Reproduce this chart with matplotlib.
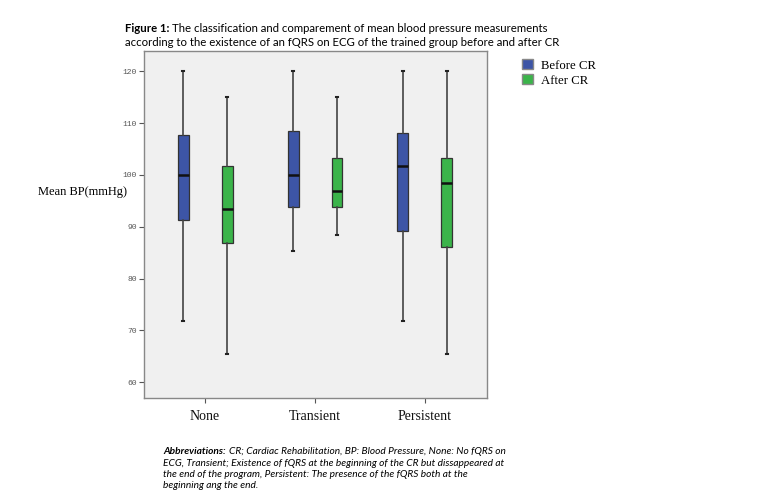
import matplotlib
matplotlib.use('Agg')
import matplotlib.pyplot as plt
from matplotlib.patches import Patch

# data
categories = ['None', 'Transient', 'Persistent']
before_lo = [71.8, 85.4, 71.8]
before_q1 = [91.3, 93.8, 89.1]
before_med = [100.0, 100.0, 101.7]
before_q3 = [107.7, 108.4, 108.0]
before_hi = [120.0, 120.0, 120.0]
after_lo = [65.4, 88.4, 65.4]
after_q1 = [86.8, 93.8, 86.0]
after_med = [93.4, 96.8, 98.4]
after_q3 = [101.7, 103.3, 103.3]
after_hi = [115.1, 115.1, 120.0]
yticks = [60, 70, 80, 90, 100, 110, 120]

blue = '#3d55a6'
green = '#3bb44a'
serif = 'Liberation Serif'

def make_stats(lo, q1, med, q3, hi):
    return [dict(whislo=a, q1=b, med=c, q3=d, whishi=e, fliers=[])
            for a, b, c, d, e in zip(lo, q1, med, q3, hi)]

fig = plt.figure(figsize=(7.63, 4.93), dpi=100)
ax = fig.add_axes([144/763, 1-398/493, 343/763, 347/493])
ax.set_facecolor('#f0f0f0')

pos = list(range(len(categories)))
for stats, col, off in [(make_stats(before_lo, before_q1, before_med, before_q3, before_hi), blue, -0.2),
                        (make_stats(after_lo, after_q1, after_med, after_q3, after_hi), green, 0.2)]:
    ax.bxp(stats, positions=[p + off for p in pos], widths=0.1, patch_artist=True,
           showfliers=False, capwidths=0.025,
           boxprops=dict(facecolor=col, edgecolor='#333333', linewidth=0.9),
           medianprops=dict(color='#111111', linewidth=1.8),
           whiskerprops=dict(color='#444444', linewidth=1.2),
           capprops=dict(color='#222222', linewidth=1.5))

ax.set_xlim(-0.555, 2.564)
ax.set_ylim(56.95, 123.9)
ax.set_xticks(pos)
ax.set_xticklabels(categories, fontfamily=serif, fontsize=10)
ax.set_yticks(yticks)
ax.set_yticklabels([str(t) for t in yticks], fontfamily='Liberation Mono', fontsize=5.8, color='#555555')
ax.tick_params(axis='both', direction='out', length=3.5, width=0.8, colors='#555555')
ax.tick_params(axis='x', labelcolor='#111111', pad=5)
ax.tick_params(axis='y', pad=1.5)
for s in ax.spines.values():
    s.set_color('#888888')
    s.set_linewidth(1.0)

fig.text(38/763, 1-192/493, 'Mean BP(mmHg)', fontfamily=serif, fontsize=9, va='center', ha='left')

leg = fig.legend(handles=[Patch(facecolor=blue, edgecolor='#888888', label='Before CR'),
                          Patch(facecolor=green, edgecolor='#888888', label='After CR')],
                 loc='upper left', bbox_to_anchor=(517/763, 1-54/493), frameon=False,
                 prop=dict(family=serif, size=9.2), handlelength=0.85, handleheight=0.85,
                 handletextpad=0.65, labelspacing=0.2, borderaxespad=0)

# title with bold lead
fig.canvas.draw()
r = fig.canvas.get_renderer()
t1 = fig.text(125/763, 1-29/493, 'Figure 1:', fontfamily='Lato', fontweight='bold', fontsize=8.2, va='center')
w = t1.get_window_extent(r).width
fig.text((125 + w + 3)/763, 1-29/493, 'The classification and comparement of mean blood pressure measurements',
         fontfamily='Lato', fontsize=8.2, va='center')
fig.text(125/763, 1-42/493, 'according to the existence of an fQRS on ECG of the trained group before and after CR',
         fontfamily='Lato', fontsize=8.2, va='center')

# abbreviations footnote
a1 = fig.text(163/763, 1-451/493, 'Abbreviations:', fontfamily='Lato', fontweight='bold', style='italic',
              fontsize=7.3, va='center')
w = a1.get_window_extent(r).width
fig.text((163 + w + 3)/763, 1-451/493, 'CR; Cardiac Rehabilitation, BP: Blood Pressure, None: No fQRS on',
         fontfamily='Lato', style='italic', fontsize=7.3, va='center')
foot = ['ECG, Transient; Existence of fQRS at the beginning of the CR but dissappeared at',
        'the end of the program, Persistent: The presence of the fQRS both at the',
        'beginning ang the end.']
for i, line in enumerate(foot):
    fig.text(163/763, 1-(463 + 11.5*i)/493, line, fontfamily='Lato', style='italic', fontsize=7.3, va='center')

fig.savefig('out.png', dpi=100)
